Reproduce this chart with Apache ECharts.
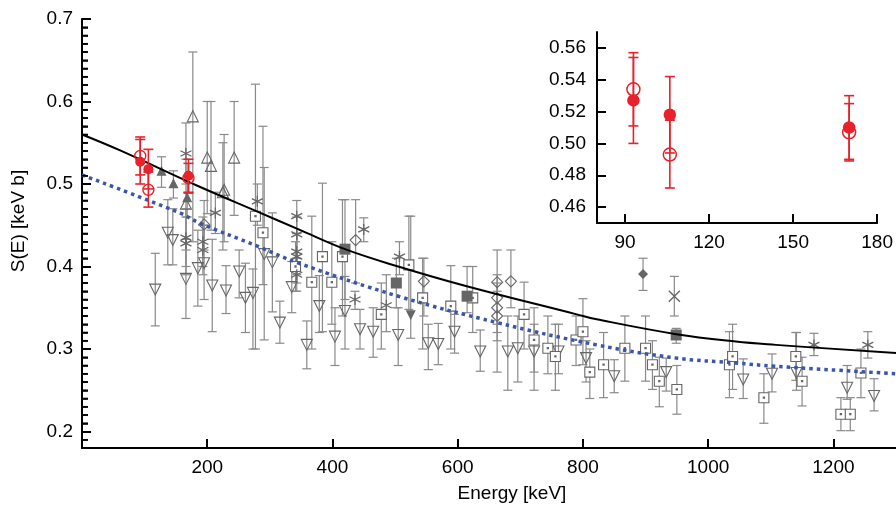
<!DOCTYPE html>
<html><head><meta charset="utf-8">
<script src="https://cdn.jsdelivr.net/npm/echarts@6/dist/echarts.min.js"></script>
<style>html,body{margin:0;padding:0;background:#fff}#c{width:896px;height:506px}</style>
</head><body><div id="c"></div>
<script>
// ---------- tick labels ----------
const xTicks = [200, 400, 600, 800, 1000, 1200];
const yTicks = [0.2, 0.3, 0.4, 0.5, 0.6, 0.7];
const insetXTicks = [90, 120, 150, 180];
const insetYTicks = [0.46, 0.48, 0.5, 0.52, 0.54, 0.56];

// ---------- data: [E keV, S, low, high] ----------
const redFilled = [[93, 0.527, 0.500, 0.554], [106, 0.518, 0.494, 0.542], [170, 0.510, 0.490, 0.530]];
const redOpen = [[93, 0.534, 0.511, 0.557], [106, 0.493, 0.472, 0.5146], [170, 0.507, 0.489, 0.525]];

const triDownOpen = [
  [117, 0.372, 0.328, 0.416], [137, 0.441, 0.402, 0.481], [145, 0.432, 0.402, 0.470],
  [166, 0.385, 0.337, 0.433], [185, 0.398, 0.352, 0.444], [195, 0.404, 0.360, 0.450],
  [208, 0.377, 0.321, 0.433], [230, 0.371, 0.343, 0.401], [251, 0.394, 0.362, 0.420],
  [261, 0.362, 0.320, 0.404], [273, 0.368, 0.300, 0.397], [291, 0.415, 0.311, 0.520],
  [304, 0.405, 0.345, 0.465], [316, 0.332, 0.307, 0.358], [335, 0.375, 0.344, 0.406],
  [359, 0.305, 0.276, 0.334], [379, 0.352, 0.320, 0.389], [404, 0.315, 0.280, 0.350],
  [420, 0.346, 0.300, 0.388], [444, 0.324, 0.300, 0.348], [465, 0.321, 0.290, 0.350],
  [505, 0.317, 0.280, 0.350], [553, 0.307, 0.275, 0.330], [569, 0.306, 0.281, 0.331],
  [595, 0.321, 0.295, 0.342], [636, 0.297, 0.273, 0.323], [680, 0.297, 0.250, 0.340],
  [696, 0.301, 0.260, 0.340], [722, 0.297, 0.250, 0.330], [761, 0.297, 0.270, 0.330],
  [805, 0.289, 0.260, 0.310], [850, 0.267, 0.247, 0.287], [933, 0.272, 0.249, 0.289],
  [1056, 0.263, 0.240, 0.288], [1102, 0.270, 0.248, 0.294], [1141, 0.271, 0.250, 0.320],
  [1222, 0.253, 0.239, 0.280], [1265, 0.243, 0.225, 0.264]
];
const squareOpen = [
  [277, 0.461, 0.300, 0.621], [289, 0.441, 0.378, 0.570], [341, 0.400, 0.370, 0.430],
  [367, 0.381, 0.300, 0.461], [384, 0.412, 0.321, 0.501], [399, 0.381, 0.330, 0.430],
  [416, 0.412, 0.340, 0.481], [478, 0.342, 0.300, 0.380], [522, 0.402, 0.348, 0.461],
  [544, 0.362, 0.300, 0.410], [589, 0.352, 0.300, 0.401], [624, 0.362, 0.320, 0.400],
  [706, 0.342, 0.300, 0.381], [722, 0.311, 0.272, 0.350], [744, 0.301, 0.270, 0.340],
  [756, 0.291, 0.250, 0.330], [789, 0.311, 0.280, 0.340], [800, 0.321, 0.281, 0.361],
  [811, 0.272, 0.240, 0.300], [833, 0.281, 0.241, 0.320], [867, 0.301, 0.261, 0.340],
  [900, 0.301, 0.261, 0.340], [911, 0.281, 0.251, 0.310], [922, 0.261, 0.230, 0.290],
  [950, 0.251, 0.221, 0.280], [1034, 0.281, 0.241, 0.321], [1039, 0.291, 0.251, 0.330],
  [1089, 0.241, 0.210, 0.270], [1140, 0.291, 0.262, 0.320], [1150, 0.261, 0.231, 0.290],
  [1212, 0.221, 0.201, 0.241], [1227, 0.221, 0.201, 0.241], [1244, 0.271, 0.241, 0.300]
];
const triUpOpen = [
  [166, 0.476, 0.420, 0.530], [177, 0.582, 0.430, 0.660], [200, 0.532, 0.464, 0.600],
  [206, 0.522, 0.444, 0.600], [225, 0.490, 0.420, 0.550], [227, 0.493, 0.430, 0.560],
  [243, 0.532, 0.462, 0.600]
];
const triUpFilled = [[127, 0.516, 0.496, 0.533], [146, 0.501, 0.483, 0.516], [168, 0.484, 0.460, 0.510]];
const asterisk = [
  [166, 0.537, 0.500, 0.574], [166, 0.435, 0.400, 0.470], [166, 0.428, 0.390, 0.460],
  [193, 0.430, 0.400, 0.460], [193, 0.420, 0.390, 0.450], [213, 0.465, 0.440, 0.490],
  [280, 0.479, 0.450, 0.500], [343, 0.461, 0.440, 0.480], [343, 0.439, 0.410, 0.460],
  [343, 0.418, 0.390, 0.440], [343, 0.412, 0.380, 0.440], [343, 0.390, 0.370, 0.410],
  [436, 0.360, 0.348, 0.370], [450, 0.445, 0.430, 0.459], [486, 0.353, 0.321, 0.390],
  [507, 0.412, 0.390, 0.430], [1169, 0.305, 0.292, 0.319], [1255, 0.305, 0.289, 0.321]
];
const crossMark = [[946, 0.364, 0.340, 0.388]];
const diamondOpen = [
  [195, 0.451, 0.420, 0.480], [437, 0.432, 0.380, 0.481], [546, 0.382, 0.340, 0.410],
  [663, 0.381, 0.272, 0.420], [663, 0.362, 0.330, 0.390], [663, 0.350, 0.320, 0.380],
  [663, 0.340, 0.310, 0.370], [685, 0.382, 0.350, 0.420]
];
const diamondFilled = [[896, 0.391, 0.371, 0.410]];
const squareFilled = [[420, 0.421, 0.360, 0.481], [502, 0.380, 0.350, 0.410], [615, 0.364, 0.344, 0.400], [949, 0.317, 0.307, 0.325]];
const triDownFilled = [[525, 0.341, 0.313, 0.461]];

// fit curves: [E keV, S]
const fitBlack = [[0, 0.560], [60, 0.541], [187, 0.497], [282, 0.466], [346, 0.445], [420, 0.421], [505, 0.400], [610, 0.377], [790, 0.342], [822, 0.336], [949, 0.318], [1044, 0.309], [1108, 0.305], [1300, 0.295]];
const fitBlue = [[0, 0.511], [156, 0.465], [187, 0.453], [282, 0.424], [346, 0.404], [505, 0.364], [663, 0.332], [822, 0.305], [949, 0.289], [1044, 0.283], [1108, 0.279], [1300, 0.270]];

// ---------- styling ----------
const FONT = "'Liberation Sans', Helvetica, Arial, sans-serif";
const GREY = '#666666', BAR = '#8a8a8a', RED = '#e8212a';
const P_SQ_DOT = 'path://M0,0H10V10H0ZM4.4,4.4H5.6V5.6H4.4Z';
const P_AST = 'path://M0,-10L0,10M-8.66,-5L8.66,5M-8.66,5L8.66,-5';
const P_X = 'path://M-1,-1L1,1M-1,1L1,-1';

function errSeries(data, color, cap, lw, xi, yi, z) {
  return {
    type: 'custom', xAxisIndex: xi, yAxisIndex: yi, data: data, z: z || 2, silent: true, clip: true,
    renderItem: function (params, api) {
      const x = api.value(0), lo = api.value(2), hi = api.value(3);
      const a = api.coord([x, hi]), b = api.coord([x, lo]);
      const st = { stroke: color, lineWidth: lw };
      return { type: 'group', children: [
        { type: 'line', shape: { x1: a[0], y1: a[1], x2: b[0], y2: b[1] }, style: st },
        { type: 'line', shape: { x1: a[0] - cap, y1: a[1], x2: a[0] + cap, y2: a[1] }, style: st },
        { type: 'line', shape: { x1: b[0] - cap, y1: b[1], x2: b[0] + cap, y2: b[1] }, style: st }
      ]};
    }
  };
}
function scat(data, symbol, size, fill, stroke, bw, rot, xi, yi, z) {
  return {
    type: 'scatter', xAxisIndex: xi, yAxisIndex: yi, silent: true, z: z || 3,
    data: data.map(d => [d[0], d[1]]), symbol: symbol, symbolSize: size, symbolRotate: rot || 0,
    itemStyle: { color: fill, borderColor: stroke, borderWidth: bw, opacity: 1 }
  };
}

// minor y ticks every 0.01 on the main axis
const minorTicks = [];
for (let k = 19; k <= 69; k++) if (k % 10 !== 0) minorTicks.push(k / 100);

const greySets = [triDownOpen, squareOpen, triUpOpen, triUpFilled, asterisk, crossMark, diamondOpen, diamondFilled, squareFilled, triDownFilled];
const series = [];
greySets.forEach(s => series.push(errSeries(s, BAR, 4.5, 1.2, 0, 0, 2)));
series.push(
  scat(triDownOpen, 'triangle', 11, 'transparent', GREY, 1.1, 180, 0, 0),
  scat(squareOpen, P_SQ_DOT, 10, '#fff', GREY, 1.1, 0, 0, 0),
  scat(triUpOpen, 'triangle', 11, 'transparent', GREY, 1.1, 0, 0, 0),
  scat(triUpFilled, 'triangle', 10, GREY, GREY, 0, 0, 0, 0),
  scat(asterisk, P_AST, 11, 'transparent', GREY, 1.3, 0, 0, 0),
  scat(crossMark, P_X, 11, 'transparent', GREY, 1.4, 0, 0, 0),
  scat(diamondOpen, 'diamond', 11, 'transparent', GREY, 1.1, 0, 0, 0),
  scat(diamondFilled, 'diamond', 10, GREY, GREY, 0, 0, 0, 0),
  scat(squareFilled, 'rect', 11, GREY, GREY, 0, 0, 0, 0),
  scat(triDownFilled, 'triangle', 10, GREY, GREY, 0, 180, 0, 0),
  { type: 'line', xAxisIndex: 0, yAxisIndex: 0, data: fitBlack, smooth: 0.4, showSymbol: false, silent: true, z: 5,
    lineStyle: { color: '#000', width: 2 } },
  { type: 'line', xAxisIndex: 0, yAxisIndex: 1, data: fitBlue, smooth: 0.4, showSymbol: false, silent: true, z: 5,
    lineStyle: { color: '#3a56a8', width: 3.5, type: [3.5, 4] } },
  errSeries(redOpen, RED, 5, 1.6, 0, 0, 6),
  errSeries(redFilled, RED, 5, 1.6, 0, 0, 6),
  scat(redOpen, 'circle', 11, 'transparent', RED, 1.4, 0, 0, 0, 7),
  scat(redFilled, 'circle', 10, RED, RED, 0, 0, 0, 0, 7),
  // inset
  errSeries(redOpen, RED, 5, 1.6, 1, 2, 6),
  errSeries(redFilled, RED, 5, 1.6, 1, 2, 6),
  scat(redOpen, 'circle', 13, 'transparent', RED, 1.5, 0, 1, 2, 7),
  scat(redFilled, 'circle', 12.5, RED, RED, 0, 0, 1, 2, 7)
);

const axLine = { show: true, lineStyle: { color: '#000', width: 2 } };
const lbl = (extra) => Object.assign({ color: '#000', fontFamily: FONT, fontSize: 19 }, extra);

const option = {
  animation: false,
  backgroundColor: '#fff',
  grid: [
    { left: 82, right: -5, top: 19, bottom: 58 },
    { left: 597, top: 32, width: 281, height: 191 }
  ],
  xAxis: [
    { gridIndex: 0, type: 'value', min: 0, max: 1300, interval: 100, splitLine: { show: false },
      axisLine: axLine,
      axisTick: { inside: true, length: 9, lineStyle: { color: '#000', width: 2 }, customValues: xTicks },
      axisLabel: lbl({ margin: 10, customValues: xTicks, formatter: v => String(v) }) },
    { gridIndex: 1, type: 'value', min: 80, max: 180, splitLine: { show: false },
      axisLine: axLine,
      axisTick: { inside: true, length: 9, lineStyle: { color: '#000', width: 2 }, customValues: insetXTicks },
      axisLabel: lbl({ margin: 10, customValues: insetXTicks, formatter: v => String(v) }) }
  ],
  yAxis: [
    { gridIndex: 0, type: 'value', min: 0.18, max: 0.7, interval: 0.01, position: 'left', splitLine: { show: false },
      axisLine: axLine,
      axisTick: { inside: true, length: 6, lineStyle: { color: '#000', width: 1.6 } },
      axisLabel: { show: false } },
    { gridIndex: 0, type: 'value', min: 0.18, max: 0.7, position: 'left', offset: 0, splitLine: { show: false },
      axisLine: { show: false },
      axisTick: { inside: true, length: 9, lineStyle: { color: '#000', width: 2 }, customValues: yTicks },
      axisLabel: lbl({ margin: 9, customValues: yTicks, formatter: v => v.toFixed(1) }) },
    { gridIndex: 1, type: 'value', min: 0.45, max: 0.57, splitLine: { show: false },
      axisLine: axLine,
      axisTick: { inside: true, length: 9, lineStyle: { color: '#000', width: 2 }, customValues: insetYTicks },
      axisLabel: lbl({ margin: 11, customValues: insetYTicks, formatter: v => v.toFixed(2) }) }
  ],
  series: series
};
const chart = echarts.init(document.getElementById('c'), null, { renderer: 'canvas' });
chart.setOption(option);

// axis titles + minor y ticks (positions taken from the chart's own y scale)
const tickEls = minorTicks.map(v => {
  const p = chart.convertToPixel({ xAxisIndex: 0, yAxisIndex: 0 }, [0, v]);
  return { type: 'line', silent: true, z: 100,
    shape: { x1: p[0], y1: p[1], x2: p[0] + 6, y2: p[1] },
    style: { stroke: '#000', lineWidth: 1.6 } };
});
chart.setOption({
  graphic: [
    { type: 'text', x: 512, y: 494, silent: true,
      style: { text: 'Energy [keV]', font: '19px ' + FONT, fill: '#000', align: 'center', verticalAlign: 'middle' } },
    { type: 'text', x: 19, y: 221, rotation: Math.PI / 2, silent: true,
      style: { text: 'S(E) [keV b]', font: '19px ' + FONT, fill: '#000', align: 'center', verticalAlign: 'middle' } },
    { type: 'group', silent: true, children: tickEls }
  ]
});
</script>
</body></html>
